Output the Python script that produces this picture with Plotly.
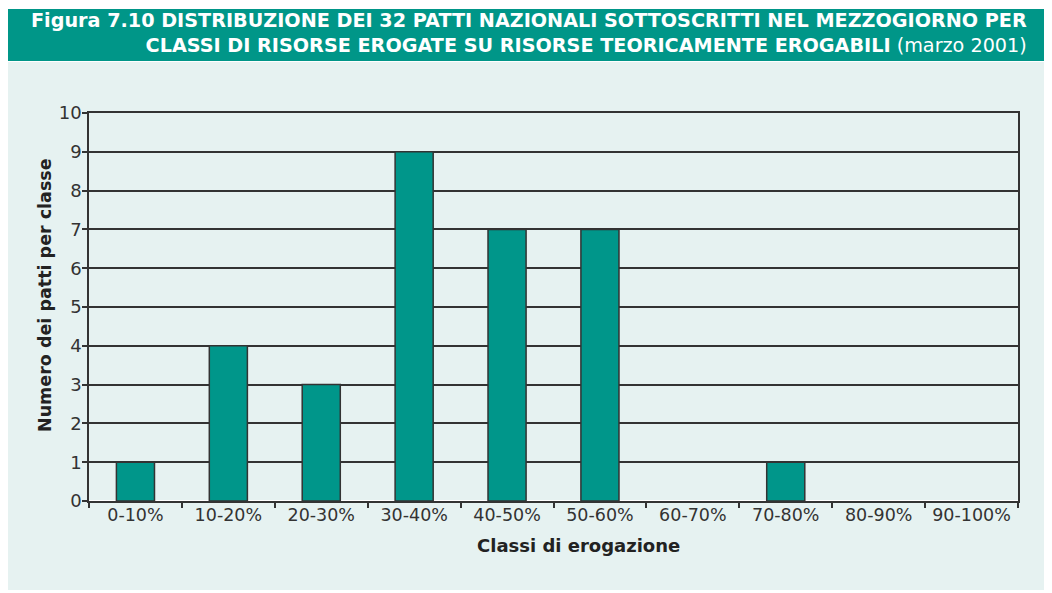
import plotly.graph_objects as go

categories = ["0-10%", "10-20%", "20-30%", "30-40%", "40-50%", "50-60%",
              "60-70%", "70-80%", "80-90%", "90-100%"]
counts = [1, 4, 3, 9, 7, 7, 0, 1, 0, 0]
y_ticks = list(range(0, 11))

title_text = ("<b>Figura 7.10 DISTRIBUZIONE DEI 32 PATTI NAZIONALI SOTTOSCRITTI NEL MEZZOGIORNO PER</b><br>"
              "<b>CLASSI DI RISORSE EROGATE SU RISORSE TEORICAMENTE EROGABILI</b> (marzo 2001)")
x_title = "<b>Classi di erogazione</b>"
y_title = "<b>Numero dei patti per classe</b>"

TEAL = "#00968a"
HEAD = "#009688"
BG = "#e6f2f1"
DARK = "#333333"

# page body has an 8px margin: the figure sits at (8, 8) in the window
W, H = 1044, 585
ml, mr, mt, mb = 81, 34, 105, 92
pw, ph = W - ml - mr, H - mt - mb


def px(x):  # figure pixel -> paper x
    return (x - ml) / pw


def py(y):  # figure pixel (from top) -> paper y
    return 1 - (y - mt) / ph


fig = go.Figure()
fig.add_trace(go.Bar(
    x=categories, y=counts,
    marker=dict(color=TEAL,
                line=dict(color=DARK, width=[1.5 if v > 0 else 0 for v in counts])),
    width=0.41,
))

fig.update_layout(
    width=W, height=H,
    margin=dict(l=ml, r=mr, t=mt, b=mb),
    paper_bgcolor="white",
    plot_bgcolor="rgba(0,0,0,0)",
    showlegend=False,
    font=dict(family="'DejaVu Sans', sans-serif", color="#333333", size=16),
    xaxis=dict(
        tickson="boundaries", ticks="outside", ticklen=5, tickwidth=1.5, tickcolor=DARK,
        ticklabelstandoff=-3,
        showline=True, linecolor=DARK, linewidth=1.5, mirror=True,
        tickfont=dict(size=17.5), showgrid=False,
    ),
    yaxis=dict(
        range=[0, 10], tickvals=y_ticks, ticks="outside", ticklen=5, tickwidth=1.5, tickcolor=DARK,
        ticklabelstandoff=-3,
        showline=True, linecolor=DARK, linewidth=1.5, mirror=True,
        showgrid=True, gridcolor=DARK, gridwidth=1.5,
        tickfont=dict(size=18),
    ),
    shapes=[
        dict(type="rect", xref="paper", yref="paper",
             x0=px(0), x1=px(1037), y0=py(582), y1=py(54),
             fillcolor=BG, line=dict(width=0), layer="below"),
        dict(type="rect", xref="paper", yref="paper",
             x0=px(0), x1=px(1037), y0=py(53), y1=py(1),
             fillcolor=HEAD, line=dict(width=0), layer="below"),
    ],
    annotations=[
        dict(text=title_text, xref="paper", yref="paper", align="right",
             x=px(1021), y=py(-1), xanchor="right", yanchor="top", showarrow=False,
             font=dict(family="'DejaVu Sans', sans-serif", size=19.2, color="white")),
        dict(text=x_title, xref="paper", yref="paper",
             x=px(570), y=py(537), xanchor="center", yanchor="middle", showarrow=False,
             font=dict(size=18, color="#222")),
        dict(text=y_title, xref="paper", yref="paper", textangle=-90,
             x=px(37), y=py(287), xanchor="center", yanchor="middle", showarrow=False,
             font=dict(size=17.5, color="#222")),
    ],
)

fig.write_html("out.html")
